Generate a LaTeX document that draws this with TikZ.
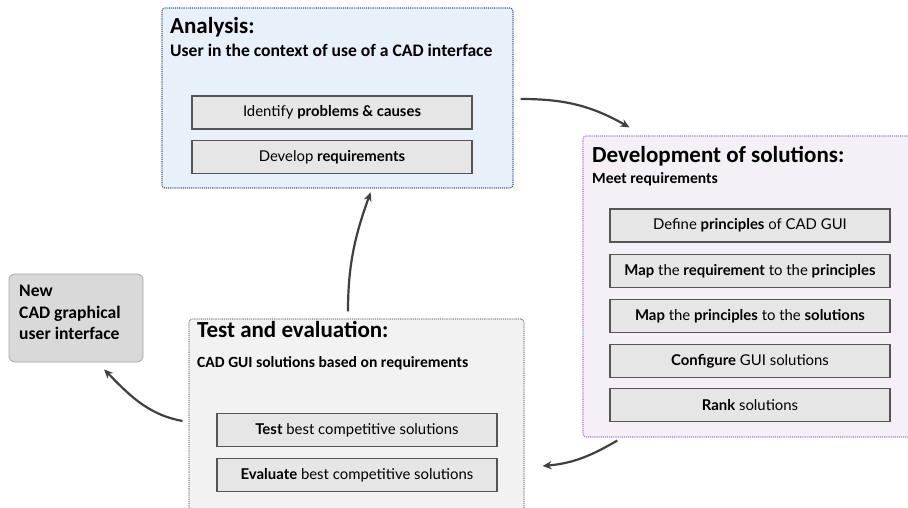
\documentclass[tikz,border=0pt]{standalone}
\usepackage{fontspec}
\setmainfont{Carlito}
\newfontfamily\stepfont{Lato}
\usetikzlibrary{positioning}
\usetikzlibrary{arrows.meta}
\definecolor{anafill}{HTML}{E8F0FA}
\definecolor{anadraw}{HTML}{3D5A99}
\definecolor{devfill}{HTML}{F5EFF7}
\definecolor{devdraw}{HTML}{A974D6}
\definecolor{testfill}{HTML}{F2F2F2}
\definecolor{testdraw}{HTML}{8A8A8A}
\definecolor{stepfill}{HTML}{E6E6E6}
\definecolor{stepdraw}{HTML}{555555}
\definecolor{newfill}{HTML}{D9D9D9}
\definecolor{arrowgray}{HTML}{404040}
\tikzset{
    phase/.style = {rectangle, rounded corners=3pt, densely dotted, line width=1.1pt, inner sep=0pt},
    phasea/.style = {phase, draw=anadraw, fill=anafill},
    phased/.style = {phase, draw=devdraw, fill=devfill},
    phaset/.style = {phase, draw=testdraw, fill=testfill},
    phasetitle/.style = {anchor=base west, inner sep=0pt, font=\fontsize{23}{27}\selectfont\bfseries},
    phasesub/.style = {anchor=base west, inner sep=0pt, font=\fontsize{15.6}{18}\selectfont\bfseries},
    stepbox/.style = {rectangle, draw=stepdraw, fill=stepfill, line width=1.2pt, minimum width=280pt, minimum height=33pt, inner sep=0pt, font=\stepfont\fontsize{14.9}{17}\selectfont},
    outbox/.style = {rectangle, rounded corners=6pt, draw=gray!70, fill=newfill, line width=0.8pt, minimum width=134pt, minimum height=88pt, inner sep=0pt},
    outtext/.style = {anchor=north west, align=left, inner sep=0pt, font=\fontsize{17.6}{21.5}\selectfont\bfseries},
    edgen/.style = {-{Stealth[length=9pt,width=8pt]}, line width=2.2pt, arrowgray}
}
\begin{document}
\begin{tikzpicture}[x=1pt,y=-1pt]
\path[use as bounding box] (0,0) rectangle (908,508);
%
\node[phasea, minimum width=351pt, minimum height=180pt] at (337.5,98) (ana) {};
\node[phasetitle] at (170,34) (anatitle) {Analysis:};
\node[phasesub, font=\fontsize{17.6}{20}\selectfont\bfseries] at (170,57) (anasub) {User in the context of use of a CAD interface};
\node[stepbox] at (332,112.5) (ana1) {Identify \textbf{problems \& causes}};
\node[stepbox] at (332,157) (ana2) {Develop \textbf{requirements}};
%
\node[phased, minimum width=336pt, minimum height=301pt] at (751,286.5) (dev) {};
\node[phasetitle] at (592,163) (devtitle) {Development of solutions:};
\node[phasesub] at (592,183) (devsub) {Meet requirements};
\node[stepbox] at (750,225.5) (dev1) {Define \textbf{principles} of CAD GUI};
\node[stepbox] at (750,271) (dev2) {\textbf{Map} the \textbf{requirement} to the \textbf{principles}};
\node[stepbox] at (750,316) (dev3) {\textbf{Map} the \textbf{principles} to the \textbf{solutions}};
\node[stepbox] at (750,361) (dev4) {\textbf{Configure} GUI solutions};
\node[stepbox] at (750,405) (dev5) {\textbf{Rank} solutions};
%
\node[phaset, minimum width=335pt, minimum height=200pt] at (356.5,419) (test) {};
\node[phasetitle] at (197,337) (testtitle) {Test and evaluation:};
\node[phasesub] at (197,367) (testsub) {CAD GUI solutions based on requirements};
\node[stepbox] at (357,430) (test1) {\textbf{Test} best competitive solutions};
\node[stepbox] at (357,475) (test2) {\textbf{Evaluate} best competitive solutions};
%
\node[outbox] at (76,318) (newgui) {};
\node[outtext] at (19,285) (newtext) {New\\CAD graphical\\user interface};
%
\draw[edgen, shorten <=7pt] ([yshift=-1pt]ana.east) to[out=0,in=150] ([xshift=47pt,yshift=8pt]dev.north west);
\draw[edgen, shorten <=6pt] ([xshift=40pt]dev.south west) to[out=210,in=5] ([xshift=18pt,yshift=-47pt]test.east);
\draw[edgen, shorten <=7pt, shorten >=4pt] ([xshift=-8.5pt]test.north) to[out=90,in=250] ([xshift=34.5pt]ana.south);
\draw[edgen, shorten <=6pt, shorten >=10pt] ([yshift=-3pt]test.west) to[out=170,in=-45] ([xshift=21pt]newgui.south);
%
\end{tikzpicture}
\end{document}
